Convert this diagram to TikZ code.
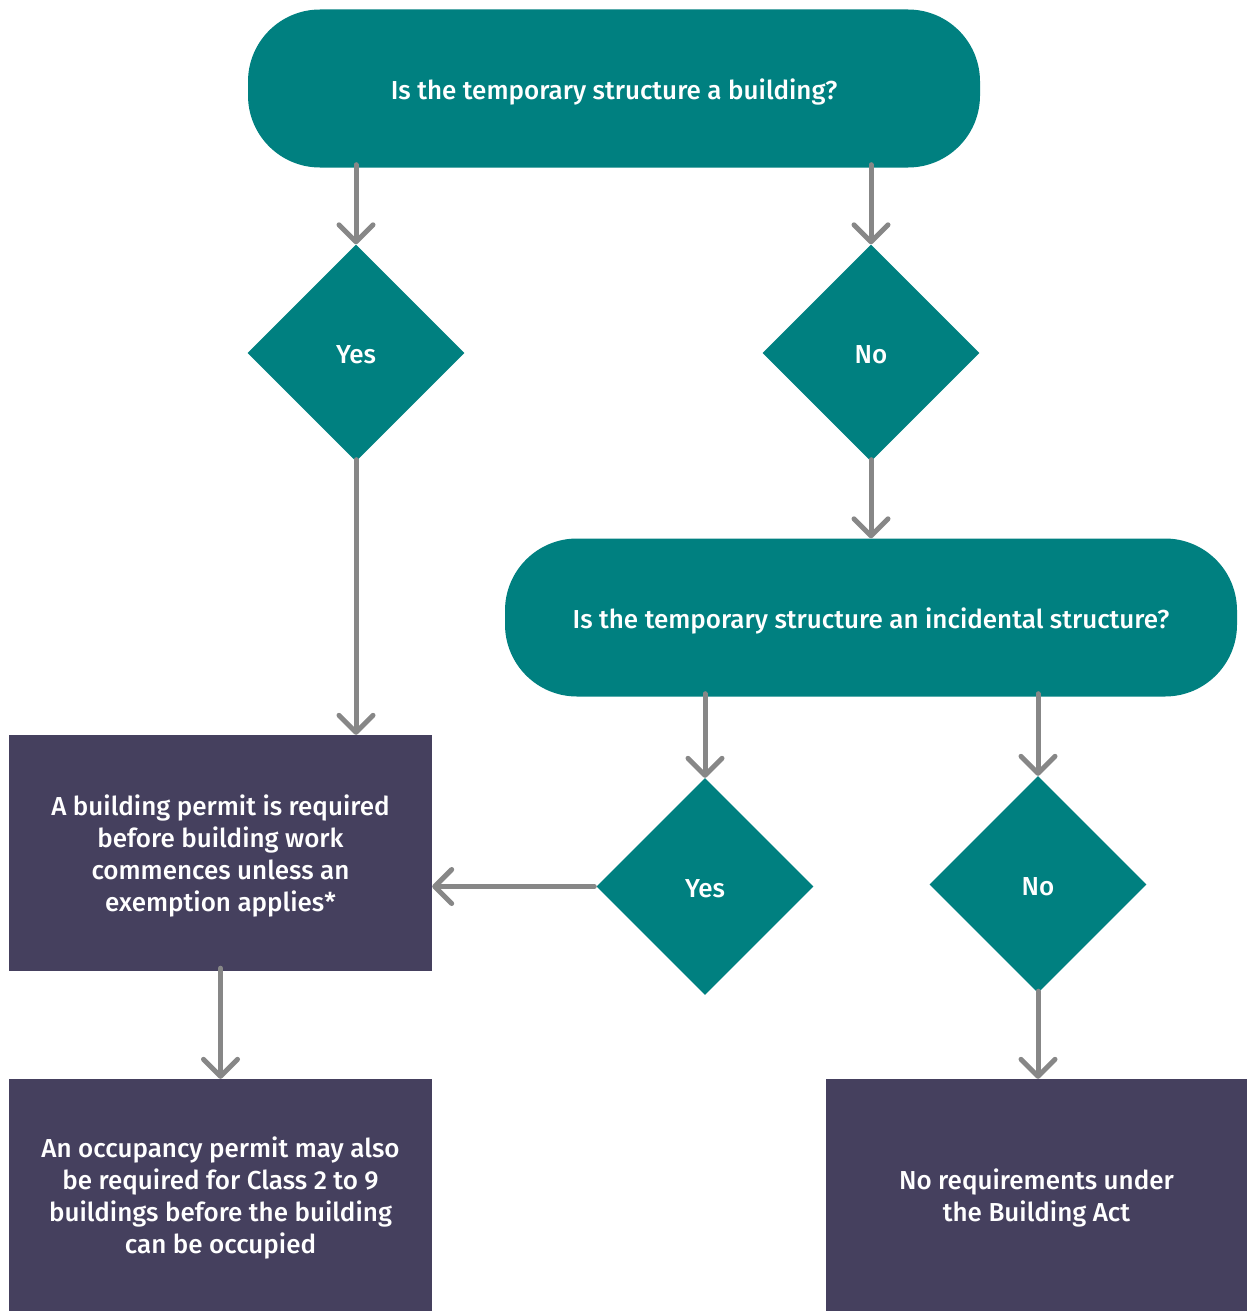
\documentclass[tikz,border=0pt]{standalone}
\usepackage{fontspec}
\setmainfont{Fira Sans}[UprightFont=* Medium]
\usetikzlibrary{shapes.geometric,arrows.meta}
\definecolor{teal}{HTML}{008080}
\definecolor{plum}{HTML}{45405E}
\definecolor{arrowgray}{HTML}{878787}
\newcommand{\lbl}[1]{\raisebox{-4.5pt}[\height][\depth]{\begin{tabular}{@{}c@{}}#1\end{tabular}}}
\tikzset{
  txt/.style={font=\fontsize{26}{32}\selectfont},
  stadium/.style={txt, fill=teal, text=white, rounded corners=72pt, minimum width=732pt, minimum height=158pt, inner sep=0pt},
  decision/.style={txt, diamond, fill=teal, text=white, minimum width=217pt, minimum height=217pt, inner sep=0pt, aspect=1},
  outcome/.style={txt, fill=plum, text=white, inner sep=0pt},
  arr/.style={draw=arrowgray, line width=5pt, line cap=round, -{Straight Barb[length=17pt,width=34pt,round]}}
}
\begin{document}
\begin{tikzpicture}[x=1pt,y=-1pt]
\useasboundingbox (0,0) rectangle (1247,1311);
\node[stadium] (q1) at (614,88.5) {\lbl{Is the temporary structure a building?}};
\node[decision] (yes1) at (356,353) {\lbl{Yes}};
\node[decision] (no1) at (871,353) {\lbl{No}};
\node[stadium] (q2) at (871,617.5) {\lbl{Is the temporary structure an incidental structure?}};
\node[outcome, minimum width=423pt, minimum height=236pt] (permit) at (220.5,853) {\raisebox{2pt}{\lbl{A building permit is required\\before building work\\commences unless an\\exemption applies*}}};
\node[decision] (yes2) at (705,886.5) {\lbl{Yes}};
\node[decision] (no2) at (1038,884.5) {\lbl{No}};
\node[outcome, minimum width=423pt, minimum height=232pt] (occ) at (220.5,1195) {\lbl{An occupancy permit may also\\be required for Class 2 to 9\\buildings before the building\\can be occupied}};
\node[outcome, minimum width=421pt, minimum height=232pt] (none) at (1036.5,1195) {\lbl{No requirements under\\the Building Act}};

\draw[arr] ([yshift=3pt]q1.south -| yes1) -- (yes1.north);
\draw[arr] ([yshift=3pt]q1.south -| no1) -- (no1.north);
\draw[arr] ([yshift=2pt]no1.south) -- (q2.north);
\draw[arr] ([yshift=2pt]yes1.south) -- (yes1.south |- permit.north);
\draw[arr] ([yshift=3pt]q2.south -| yes2) -- (yes2.north);
\draw[arr] ([yshift=3pt]q2.south -| no2) -- (no2.north);
\draw[arr] ([xshift=-2pt]yes2.west) -- (yes2.west -| permit.east);
\draw[arr] ([yshift=3pt]permit.south) -- (occ.north);
\draw[arr] ([yshift=2pt]no2.south) -- (no2.south |- none.north);
\end{tikzpicture}
\end{document}
